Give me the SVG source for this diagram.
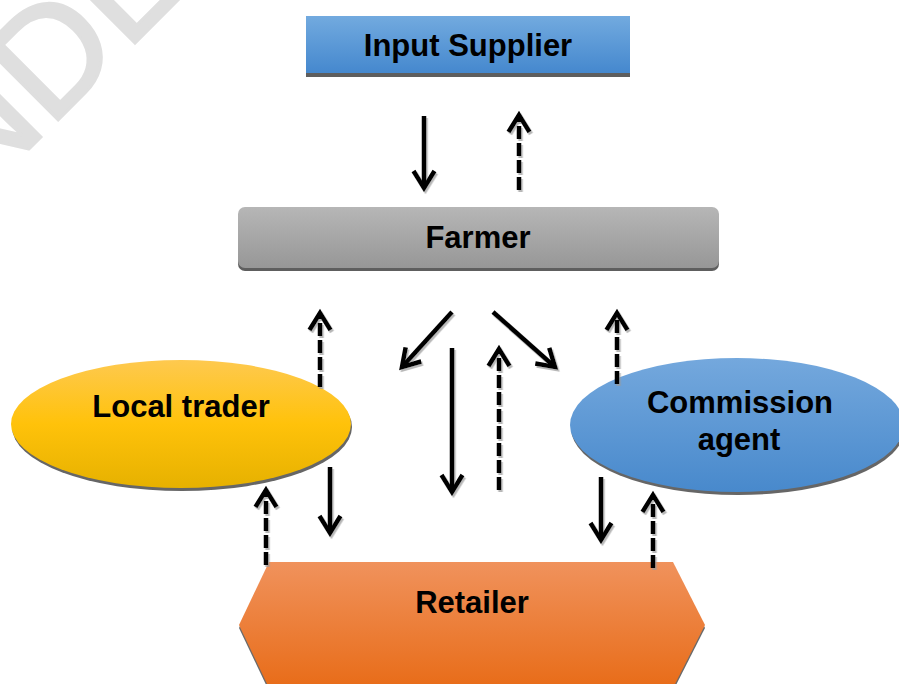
<svg xmlns="http://www.w3.org/2000/svg" width="899" height="684" viewBox="0 0 899 684">
<style>
.lbl{font-family:"Liberation Sans",Arial,sans-serif;font-weight:bold;font-size:31px;fill:#000;text-anchor:middle}
.conn{fill:none;stroke:#000;stroke-width:4.5}
.dash{stroke-dasharray:13 4}
.shadow{fill:#5e5e5e}
</style>
<defs>
<linearGradient id="gBlue" x1="0" y1="0" x2="0" y2="1"><stop offset="0" stop-color="#72aadf"/><stop offset="1" stop-color="#4588ce"/></linearGradient>
<linearGradient id="gGray" x1="0" y1="0" x2="0" y2="1"><stop offset="0" stop-color="#b6b6b6"/><stop offset="1" stop-color="#979797"/></linearGradient>
<linearGradient id="gGold" x1="0" y1="0" x2="0" y2="1"><stop offset="0" stop-color="#fec94f"/><stop offset="0.5" stop-color="#ffc20a"/><stop offset="1" stop-color="#e6b100"/></linearGradient>
<linearGradient id="gBlue2" x1="0" y1="0" x2="0" y2="1"><stop offset="0" stop-color="#74a8dd"/><stop offset="1" stop-color="#4889cc"/></linearGradient>
<linearGradient id="gOrange" x1="0" y1="0" x2="0" y2="1"><stop offset="0" stop-color="#f0925c"/><stop offset="1" stop-color="#e86c18"/></linearGradient>
<filter id="ls" x="-50%" y="-50%" width="200%" height="200%"><feDropShadow dx="1.5" dy="2" stdDeviation="0.6" flood-color="#9a9a9a" flood-opacity="0.7"/></filter>
<marker id="ah" markerUnits="userSpaceOnUse" viewBox="-25 -15 30 30" refX="0" refY="0" markerWidth="30" markerHeight="30" orient="auto" overflow="visible">
<path d="M-17,-10.5 L0,0 L-17,10.5" fill="none" stroke="#000" stroke-width="4.5" stroke-dasharray="none"/>
</marker>
</defs>
<text transform="translate(-27,205) rotate(-45)" font-family="Liberation Sans,Arial,sans-serif" font-size="150" fill="#dfdfdf" stroke="#dfdfdf" stroke-width="3">NDE</text>
<g id="input-supplier">
<rect class="shadow" x="306" y="20" width="324" height="57"/>
<rect x="306" y="16" width="324" height="57" fill="url(#gBlue)"/>
<text class="lbl" x="468" y="56">Input Supplier</text>
</g>
<g id="farmer">
<rect x="238" y="210" width="481" height="61" rx="7" fill="#5e5e5e"/>
<rect x="238" y="207" width="481" height="61" rx="7" fill="url(#gGray)"/>
<text class="lbl" x="478" y="248">Farmer</text>
</g>
<g id="local-trader">
<ellipse cx="182" cy="427" rx="170" ry="64" fill="#666"/>
<ellipse cx="181" cy="424" rx="170" ry="64" fill="url(#gGold)"/>
<text class="lbl" x="181" y="417">Local trader</text>
</g>
<g id="commission-agent">
<ellipse cx="738" cy="428" rx="167" ry="67" fill="#666"/>
<ellipse cx="737" cy="425" rx="167" ry="67" fill="url(#gBlue2)"/>
<text class="lbl" x="740" y="413">Commission</text>
<text class="lbl" x="739" y="450">agent</text>
</g>
<g id="retailer">
<polygon points="269,565 673,565 705,628 673,691 269,691 239,628" fill="#6a6a6a"/>
<polygon points="269,562 673,562 705,625 673,688 269,688 239,625" fill="url(#gOrange)"/>
<text class="lbl" x="472" y="613">Retailer</text>
</g>
<g id="connectors" filter="url(#ls)">
<line class="conn" x1="424" y1="116" x2="424" y2="188" marker-end="url(#ah)"/>
<line class="conn" x1="452" y1="312" x2="402" y2="367" marker-end="url(#ah)"/>
<line class="conn" x1="493" y1="312" x2="555" y2="367" marker-end="url(#ah)"/>
<line class="conn" x1="452" y1="348" x2="452" y2="492" marker-end="url(#ah)"/>
<line class="conn" x1="330" y1="467" x2="330" y2="533" marker-end="url(#ah)"/>
<line class="conn" x1="601" y1="477" x2="601" y2="540" marker-end="url(#ah)"/>
<line class="conn dash" x1="519" y1="190" x2="519" y2="115" marker-end="url(#ah)"/>
<line class="conn dash" x1="320" y1="387" x2="320" y2="313" marker-end="url(#ah)"/>
<line class="conn dash" x1="499" y1="490" x2="499" y2="349" marker-end="url(#ah)"/>
<line class="conn dash" x1="617" y1="384" x2="617" y2="313" marker-end="url(#ah)"/>
<line class="conn dash" x1="266" y1="565" x2="266" y2="490" marker-end="url(#ah)"/>
<line class="conn dash" x1="653" y1="568" x2="653" y2="495" marker-end="url(#ah)"/>
</g>
</svg>
